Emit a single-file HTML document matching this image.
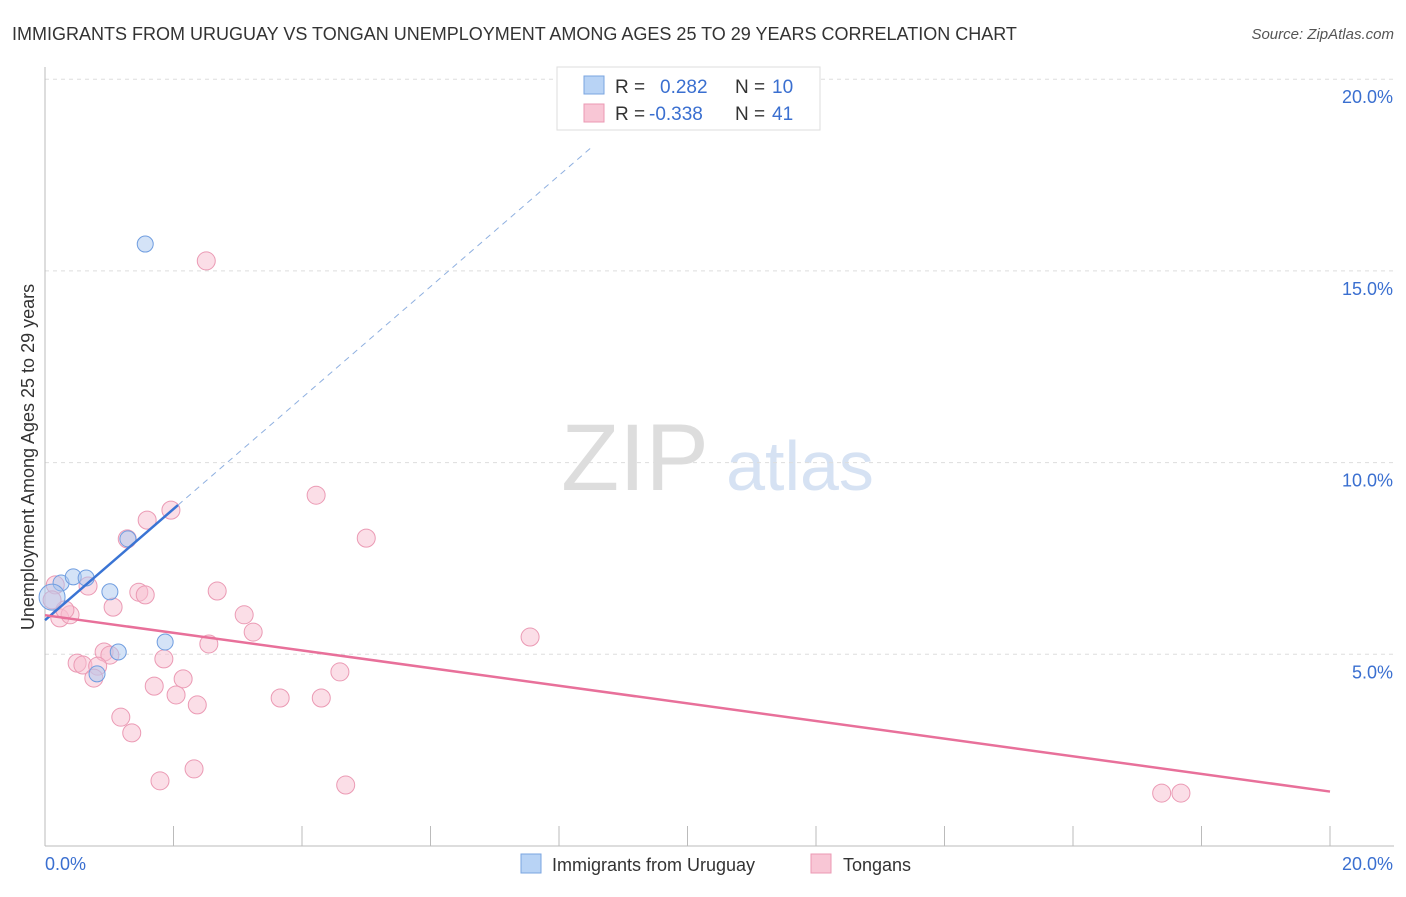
<!DOCTYPE html>
<html><head><meta charset="utf-8"><style>
body{margin:0;background:#fff;font-family:"Liberation Sans",sans-serif;}
svg text{font-family:"Liberation Sans",sans-serif;}
</style></head><body>
<svg id="chart" width="1406" height="892">
<text x="12" y="40" font-size="18" fill="#333">IMMIGRANTS FROM URUGUAY VS TONGAN UNEMPLOYMENT AMONG AGES 25 TO 29 YEARS CORRELATION CHART</text>
<text x="1394" y="39" font-size="15" fill="#555" text-anchor="end" font-style="italic">Source: ZipAtlas.com</text>
<text x="635" y="490" font-size="95" fill="#ddd" font-family="Liberation Serif" text-anchor="middle">ZIP</text>
<text x="800" y="490" font-size="70" fill="#d6e2f3" text-anchor="middle">atlas</text>
<text transform="translate(34,457) rotate(-90)" font-size="18" fill="#333" text-anchor="middle">Unemployment Among Ages 25 to 29 years</text>
<g id="grid"></g><g id="axes"></g><g id="marks"></g>
<g>
<rect x="557" y="67" width="263" height="63" fill="#fff" stroke="#ddd"/>
<rect x="584" y="76" width="20" height="18" fill="#b8d3f5" stroke="#7aa5e0"/>
<rect x="584" y="104" width="20" height="18" fill="#f8c6d5" stroke="#eb98b3"/>
<text x="615" y="93" font-size="19" fill="#333">R =</text><text x="660" y="93" font-size="19" fill="#3a6fd0">0.282</text>
<text x="735" y="93" font-size="19" fill="#333">N =</text><text x="772" y="93" font-size="19" fill="#3a6fd0">10</text>
<text x="615" y="120" font-size="19" fill="#333">R =</text><text x="649" y="120" font-size="19" fill="#3a6fd0">-0.338</text>
<text x="735" y="120" font-size="19" fill="#333">N =</text><text x="772" y="120" font-size="19" fill="#3a6fd0">41</text>
</g>
<g>
<rect x="521" y="854" width="20" height="19" fill="#b8d3f5" stroke="#7aa5e0"/>
<text x="552" y="871" font-size="18" fill="#333">Immigrants from Uruguay</text>
<rect x="811" y="854" width="20" height="19" fill="#f8c6d5" stroke="#eb98b3"/>
<text x="843" y="871" font-size="18" fill="#333">Tongans</text>
</g>
</svg>
<script>
const yTicks=[5,10,15,20];
const yTickLabels=["5.0%","10.0%","15.0%","20.0%"];
const xTickLabels=["0.0%","20.0%"];
const blueX=[1.56,1.29,0.25,0.44,0.64,1.01,1.87,1.14,0.81,0.11];
const blueY=[15.70,8.01,6.86,7.02,6.99,6.63,5.32,5.06,4.49,6.49];
const pinkX=[2.51,4.22,5.00,1.96,1.59,1.28,2.68,1.46,1.56,0.67,1.06,3.10,3.24,7.55,2.55,0.92,1.85,1.01,0.50,0.59,0.82,0.76,4.59,1.70,2.15,2.04,2.37,3.66,4.30,1.18,1.35,2.32,1.79,4.68,17.38,17.68,0.16,0.23,0.39,0.31,0.11];
const pinkY=[15.26,9.15,8.03,8.76,8.50,8.01,6.65,6.62,6.55,6.78,6.23,6.03,5.58,5.45,5.27,5.06,4.88,4.98,4.77,4.72,4.69,4.38,4.54,4.17,4.36,3.94,3.68,3.86,3.86,3.36,2.95,2.01,1.70,1.59,1.38,1.38,6.81,5.95,6.03,6.16,6.42];
const blueTrend=[5.89,1.45];
const pinkTrend=[6.02,-0.23];
const NS="http://www.w3.org/2000/svg";
const X=v=>45+v/20*1285, Y=v=>846-v*38.34;
function mk(t,a,p){const e=document.createElementNS(NS,t);for(const k in a)e.setAttribute(k,a[k]);document.getElementById(p).appendChild(e);return e;}
yTicks.forEach((t,i)=>{
 const g=mk('line',{x1:45,x2:1394,y1:Y(t),y2:Y(t),stroke:'#ddd','stroke-dasharray':'4,4'},'grid');
 
 
 const l=mk('text',{x:1393,y:Y(t)+24,'font-size':18,fill:'#3a6fd0','text-anchor':'end'},'axes');l.textContent=yTickLabels[i];
 
 
});
mk('line',{x1:45,x2:45,y1:67,y2:846,stroke:'#bbb'},'axes');
mk('line',{x1:45,x2:1394,y1:846,y2:846,stroke:'#bbb'},'axes');
for(let k=1;k<=10;k++){const tk=mk('line',{x1:X(k*2),x2:X(k*2),y1:826,y2:846,stroke:'#bbb'},'axes');
 
 }
[[0,45,'start'],[20,1393,'end']].forEach((d,i)=>{const t=mk('text',{x:d[1],y:870,'font-size':18,fill:'#3a6fd0','text-anchor':d[2]},'axes');t.textContent=xTickLabels[i];
 
 });
pinkX.forEach((x,i)=>{const c=mk('circle',{cx:X(x),cy:Y(pinkY[i]),r:9,fill:'rgba(248,190,208,0.5)',stroke:'#eb9ab4','stroke-width':1},'marks');
 
 });
blueX.forEach((x,i)=>{const c=mk('circle',{cx:X(x),cy:Y(blueY[i]),r:i==9?13:8,fill:'rgba(170,200,240,0.5)',stroke:'#6f9de0','stroke-width':1},'marks');
 
 });
const bl=mk('line',{x1:X(0),y1:Y(blueTrend[0]),x2:X(2.07),y2:Y(blueTrend[0]+blueTrend[1]*2.07),stroke:'#3a74d4','stroke-width':2.5},'marks');


const bd=mk('line',{x1:X(2.07),y1:Y(blueTrend[0]+blueTrend[1]*2.07),x2:X(8.5),y2:Y(blueTrend[0]+blueTrend[1]*8.5),stroke:'#8fb0e0','stroke-width':1,'stroke-dasharray':'6,5'},'marks');


const pl=mk('line',{x1:X(0),y1:Y(pinkTrend[0]),x2:X(20),y2:Y(pinkTrend[0]+pinkTrend[1]*20),stroke:'#e8709a','stroke-width':2.5},'marks');


</script>
</body></html>
